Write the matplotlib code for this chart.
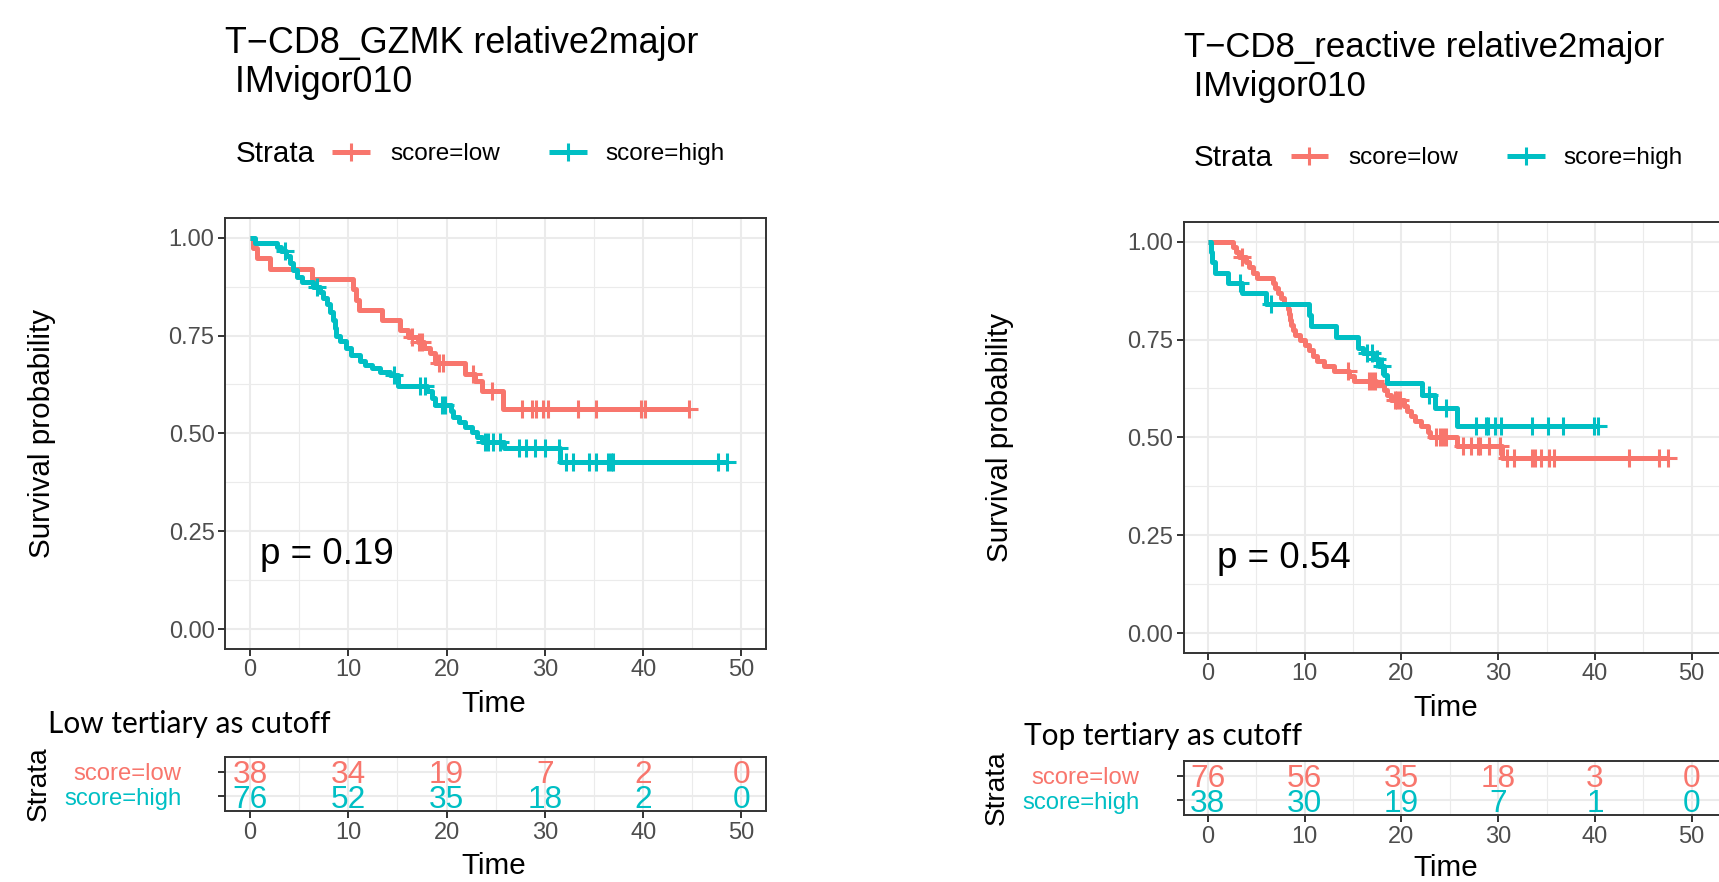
import numpy as np
import matplotlib.pyplot as plt
from matplotlib.lines import Line2D

plt.rcParams['font.family'] = 'Liberation Sans'

W, H = 1719, 882
RED = '#F8766D'
CYAN = '#00BFC4'
GRID = '#EBEBEB'
DARK = '#333333'
TICK_TXT = '#4D4D4D'

# T-CD8_GZMK, low tertiary as cutoff (step times / survival after step / censor times)
gzmk_low_t = [0, 0.35, 0.7, 2.05, 6.35, 10.5, 10.8, 11.05, 13.4, 15.3, 16.1, 17.05,
              17.7, 18.3, 18.8, 21.9, 22.9, 23.6, 25.7]
gzmk_low_s = [1.0, 0.974, 0.947, 0.921, 0.895, 0.868, 0.842, 0.816, 0.789, 0.763, 0.747,
              0.733, 0.718, 0.705, 0.679, 0.651, 0.633, 0.607, 0.562]
gzmk_low_cens = [16.5, 17.2, 17.5, 19.2, 19.6, 22.7, 24.6, 27.7, 28.7, 29.1, 29.8, 30.3,
                 33.4, 35.2, 39.8, 40.2, 44.7]

gzmk_high_t = [0, 0.5, 2.7, 3.2, 3.7, 4.1, 4.4, 4.75, 5.25, 6.4, 7.1, 7.45, 7.8, 8.1, 8.4,
               8.6, 8.8, 9.15, 9.8, 10.3, 11.2, 11.7, 12.4, 13.2, 14.2, 15.1, 18.0, 18.5,
               18.8, 20.4, 20.7, 21.3, 21.9, 22.6, 23.1, 23.6, 25.8, 31.5]
gzmk_high_s = [1.0, 0.987, 0.976, 0.965, 0.952, 0.935, 0.918, 0.9, 0.886, 0.874, 0.86,
               0.846, 0.83, 0.81, 0.79, 0.77, 0.75, 0.735, 0.718, 0.701, 0.684, 0.675,
               0.667, 0.658, 0.65, 0.62, 0.607, 0.59, 0.573, 0.557, 0.543, 0.53, 0.517,
               0.504, 0.49, 0.477, 0.462, 0.427]
gzmk_high_cens = [3.6, 6.8, 14.7, 17.3, 17.8, 19.5, 19.8, 23.9, 24.2, 24.7, 25.4, 27.4,
                  28.05, 29.0, 30.0, 31.4, 32.1, 32.9, 34.5, 35.2, 36.4, 36.7, 36.9,
                  47.6, 48.5]

# T-CD8_reactive, top tertiary as cutoff
react_low_t = [0, 2.6, 2.9, 3.2, 4.0, 4.3, 4.7, 5.1, 6.7, 7.0, 7.3, 7.6, 7.9, 8.3, 8.4,
               8.5, 8.6, 8.8, 9.0, 9.5, 10.0, 10.5, 10.9, 11.3, 12.0, 13.0, 14.6, 15.1,
               17.4, 18.2, 18.5, 18.9, 20.3, 20.6, 21.0, 21.4, 22.0, 22.8, 23.0, 25.8, 30.4]
react_low_s = [1.0, 0.987, 0.974, 0.961, 0.947, 0.934, 0.921, 0.907, 0.894, 0.881, 0.868,
               0.855, 0.842, 0.828, 0.815, 0.801, 0.788, 0.775, 0.762, 0.749, 0.736,
               0.723, 0.709, 0.696, 0.683, 0.67, 0.657, 0.644, 0.633, 0.621, 0.608,
               0.595, 0.58, 0.567, 0.554, 0.541, 0.528, 0.514, 0.5, 0.478, 0.447]
react_low_cens = [3.5, 14.5, 16.7, 17.0, 17.3, 19.4, 19.6, 19.9, 23.6, 24.0, 24.3, 24.6,
                  26.4, 27.2, 27.9, 28.1, 29.1, 30.2, 30.9, 31.6, 33.5, 33.8, 34.4, 35.3,
                  35.8, 43.5, 46.6, 47.5]

react_high_t = [0, 0.3, 0.45, 0.75, 2.1, 3.5, 6.0, 10.5, 10.7, 13.3, 15.5, 16.0, 17.2,
                17.7, 18.2, 18.5, 22.1, 23.5, 25.8]
react_high_s = [1.0, 0.974, 0.947, 0.921, 0.895, 0.868, 0.841, 0.813, 0.785, 0.757,
                0.729, 0.715, 0.699, 0.682, 0.66, 0.639, 0.609, 0.575, 0.528]
react_high_cens = [3.3, 6.5, 16.5, 17.0, 17.5, 18.0, 22.9, 24.6, 27.7, 28.8, 29.0, 29.7,
                   30.3, 33.5, 35.2, 36.7, 39.9, 40.3]

# numbers at risk
risk_times = [0, 10, 20, 30, 40, 50]
gzmk_risk_low = [38, 34, 19, 7, 2, 0]
gzmk_risk_high = [76, 52, 35, 18, 2, 0]
react_risk_low = [76, 56, 35, 18, 3, 0]
react_risk_high = [38, 30, 19, 7, 1, 0]

strata_labels = ['score=low', 'score=high']
x_ticks = [0, 10, 20, 30, 40, 50]
y_ticks = [0.0, 0.25, 0.5, 0.75, 1.0]


def fig_box(x0, y0, x1, y1):
    return [x0 / W, 1 - y1 / H, (x1 - x0) / W, (y1 - y0) / H]


def ftext(fig, x, y, s, **kw):
    return fig.text(x / W, 1 - y / H, s, **kw)


def style(ax, xmax):
    for sp in ax.spines.values():
        sp.set_color(DARK)
        sp.set_linewidth(1.4)
    ax.set_xlim(-2.5, xmax)
    ax.set_xticks(x_ticks)
    ax.set_xticks([5, 15, 25, 35, 45], minor=True)
    ax.grid(which='major', color=GRID, linewidth=1.5)
    ax.grid(which='minor', color=GRID, linewidth=0.8)
    ax.set_axisbelow(True)
    ax.tick_params(which='major', length=4.8, width=1.4, color=DARK,
                   labelsize=17, labelcolor=TICK_TXT, pad=3)
    ax.tick_params(which='minor', length=0)


def draw_curve(ax, t, s, cens, color):
    end = max(max(cens), t[-1])
    ax.step(list(t) + [end], list(s) + [s[-1]], where='post', color=color,
            lw=3.6, solid_capstyle='butt', zorder=3)
    idx = np.searchsorted(t, cens, side='right') - 1
    ax.plot(cens, np.array(s)[idx], ls='none', marker='+', ms=13, mew=2.2,
            color=color, zorder=4)


def panel(fig, x0, dy, px_unit, clipped, title, title_size, low, high, pval,
          caption, cap_xy, time_x, risk_low, risk_high):
    # px_unit: screen pixels per time unit; the right panel runs past the figure edge
    x1 = x0 + 55 * px_unit
    xmax = 52.5
    if clipped:
        x1 = W + 6
        xmax = -2.5 + (x1 - x0) / px_unit

    # survival curves
    ax = fig.add_axes(fig_box(x0, 218.1 + dy, x1, 648.6 + dy))
    style(ax, xmax)
    ax.set_ylim(-0.05, 1.05)
    ax.set_yticks(y_ticks)
    ax.set_yticklabels(['%.2f' % v for v in y_ticks])
    ax.set_yticks([0.125, 0.375, 0.625, 0.875], minor=True)
    draw_curve(ax, *low, RED)
    draw_curve(ax, *high, CYAN)
    ax.text(1.0, 0.19, pval, fontsize=26.5, ha='left', va='center', color='black')

    # title, two lines
    line1, line2 = title.split('\n')
    ftext(fig, x0, 52.7 + dy, line1, fontsize=title_size, va='baseline')
    ftext(fig, x0, 91.7 + dy, line2, fontsize=title_size, va='baseline')

    # legend
    ftext(fig, x0 + 10.6, 161.5 + dy, 'Strata', fontsize=21.3, va='baseline')
    keys = [(x0 + 107, x0 + 144.6, x0 + 164.6, RED, strata_labels[0]),
            (x0 + 323.6, x0 + 361.1, x0 + 380.2, CYAN, strata_labels[1])]
    for ka, kb, lx, col, lab in keys:
        ky = 1 - (151.7 + dy) / H
        fig.add_artist(Line2D([ka / W, kb / W], [ky, ky], color=col, lw=3.6,
                              solid_capstyle='butt'))
        fig.add_artist(Line2D([(ka + kb) / 2 / W], [ky], color=col, ls='none',
                              marker='+', ms=13, mew=2.2))
        ftext(fig, lx, 160 + dy, lab, fontsize=17.5, va='baseline')

    ftext(fig, x0 - 183.7, 433.4 + dy, 'Survival probability', fontsize=21.3,
          rotation=90, ha='center', va='center')
    ftext(fig, time_x, 712.2 + dy, 'Time', fontsize=21.3, ha='center', va='baseline')

    # risk table
    rx = fig.add_axes(fig_box(x0, 757.3 + dy, x1, 810.7 + dy))
    style(rx, xmax)
    rx.set_ylim(0.4, 2.6)
    rx.set_yticks([2, 1])
    rx.set_yticklabels(strata_labels)
    rx.tick_params(axis='y', labelsize=17.2, pad=27)
    for lab, col in zip(rx.get_yticklabels(), [RED, CYAN]):
        lab.set_color(col)
    for row, counts, col in [(2, risk_low, RED), (1, risk_high, CYAN)]:
        for t, n in zip(risk_times, counts):
            rx.annotate(str(n), (t, row), xytext=(0, -8.2), textcoords='offset points',
                        ha='center', va='baseline', fontsize=22.8, color=col)

    ftext(fig, cap_xy[0], cap_xy[1], caption, fontsize=21.5, va='baseline',
          family=['Lato', 'Liberation Sans'])
    ftext(fig, x0 - 187.1, 784 + dy, 'Strata', fontsize=20.2, rotation=90,
          ha='center', va='center')
    ftext(fig, time_x, 874 + dy * 0.5, 'Time', fontsize=21.3, ha='center', va='baseline')


fig = plt.figure(figsize=(W / 100, H / 100), dpi=100)
fig.patch.set_facecolor('white')

panel(fig, 225.4, 0, 9.83, False, 'T\u2212CD8_GZMK relative2major\n IMvigor010', 25.8,
      (gzmk_low_t, gzmk_low_s, gzmk_low_cens),
      (gzmk_high_t, gzmk_high_s, gzmk_high_cens),
      'p = 0.19', 'Low tertiary as cutoff', (47.7, 733.3), 494,
      gzmk_risk_low, gzmk_risk_high)

panel(fig, 1183.5, 4, 9.68, True, 'T\u2212CD8_reactive relative2major\n IMvigor010', 25.0,
      (react_low_t, react_low_s, react_low_cens),
      (react_high_t, react_high_s, react_high_cens),
      'p = 0.54', 'Top tertiary as cutoff', (1023.5, 745.5), 1446,
      react_risk_low, react_risk_high)

fig.savefig('out.png', dpi=100)
